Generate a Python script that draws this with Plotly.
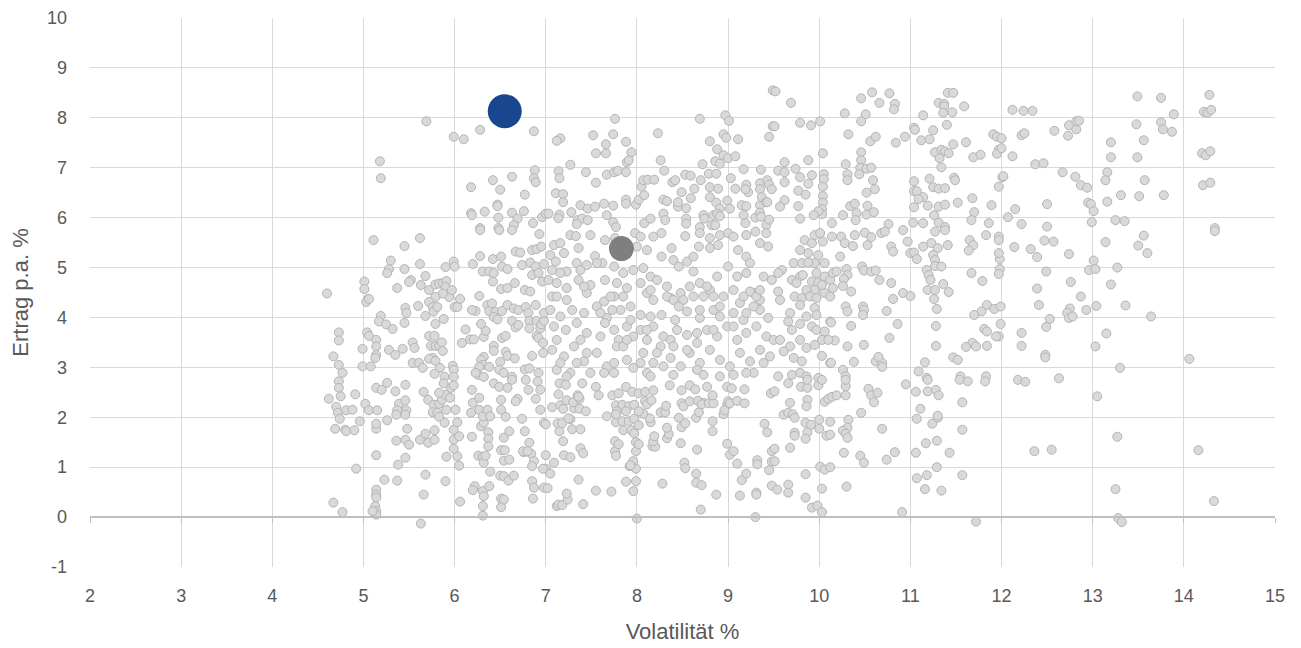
import plotly.graph_objects as go

# Portfolio cloud (volatility %, return p.a. %), by region
pts_top_left = [(5.69,7.93),(5.99,7.62),(6.10,7.57),(6.28,7.76),(6.87,7.73),(5.18,7.13),(5.19,6.79),(6.88,6.95),(6.87,6.79),(6.89,6.71),(6.18,6.61),(6.42,6.75),(6.63,6.82),(6.50,6.56),(6.77,6.46),(6.47,6.26),(6.47,6.23),(6.18,6.09),(6.19,6.05),(6.33,6.12),(6.48,6.00),(6.63,6.10),(6.76,6.13),(6.69,5.98),(6.86,5.89),(6.96,6.01),(7.00,6.08),(6.28,5.79),(6.48,5.79),(6.65,5.85)]
pts_top_mid = [(9.49,8.55),(7.76,7.98),(8.69,7.98),(8.97,8.05),(9.01,7.94),(9.49,7.83),(7.16,7.59),(7.12,7.54),(7.52,7.65),(7.74,7.67),(8.23,7.69),(7.66,7.47),(7.88,7.52),(7.55,7.29),(7.66,7.29),(7.94,7.31),(7.89,7.11),(7.91,7.15),(8.95,7.67),(8.98,7.60),(9.11,7.57),(8.80,7.53),(9.45,7.62),(8.88,7.37),(8.95,7.25),(9.00,7.19),(9.08,7.23),(8.86,7.13),(8.91,7.08),(8.26,7.15),(7.27,7.06),(7.14,6.93),(7.15,6.79),(7.44,6.91),(7.55,6.70),(7.67,6.86),(7.75,6.91),(7.79,6.94),(7.88,6.91),(8.30,6.94),(8.72,7.07),(8.79,6.88),(8.87,6.88),(9.03,6.79),(9.17,6.97),(9.36,6.96),(8.05,6.62),(8.07,6.75),(8.12,6.76),(8.19,6.76),(8.39,6.71),(8.42,6.75),(8.53,6.86),(8.59,6.84),(8.63,6.58),(8.70,6.75),(8.80,6.61),(8.89,6.58),(9.08,6.58),(9.20,6.66),(9.22,6.51),(9.19,6.57),(9.35,6.69),(9.35,6.57),(9.43,6.75),(9.45,6.66),(9.48,6.57),(7.11,6.49),(7.19,6.47),(7.19,6.31),(7.38,6.25),(7.46,6.18),(7.54,6.22),(7.64,6.28),(7.74,6.24),(7.88,6.36),(7.88,6.28),(7.99,6.26),(8.02,6.36),(8.08,6.45),(8.29,6.36),(8.33,6.33),(8.45,6.22),(8.49,6.51),(8.45,6.31),(8.54,6.19),(8.59,6.39),(8.80,6.41),(8.87,6.30),(8.91,6.18),(8.99,6.34),(9.02,6.18),(9.15,6.25),(9.20,6.23),(9.35,6.25),(9.37,6.41),(9.42,6.31),(9.43,6.31),(7.03,6.08),(7.15,6.06),(7.28,6.11),(7.14,5.99),(7.35,5.95),(7.40,5.98),(7.46,5.95),(7.34,5.87),(7.67,6.05),(7.74,5.91),(7.77,5.81),(8.08,5.89),(8.15,5.98),(8.29,6.08),(8.31,5.95),(8.54,5.98),(8.54,5.88),(8.73,6.05),(8.74,5.98),(8.69,5.81),(8.82,5.85),(8.84,6.05),(8.88,6.08),(8.91,6.03),(8.86,5.85),(9.17,6.05),(9.19,5.89),(9.30,6.00),(9.35,6.10),(9.36,6.02),(9.42,5.85),(9.45,5.96)]
pts_top_right = [(9.52,8.53),(9.69,8.30),(10.46,8.39),(10.58,8.51),(10.66,8.30),(10.77,8.49),(10.83,8.28),(10.82,8.17),(10.28,8.09),(10.51,8.07),(10.46,7.93),(11.41,8.50),(11.47,8.50),(11.31,8.30),(11.37,8.28),(11.37,8.23),(11.36,8.10),(11.46,8.11),(11.59,8.23),(11.14,8.05),(9.51,7.83),(9.79,7.90),(9.91,7.85),(10.01,7.93),(10.32,7.67),(10.56,7.53),(10.62,7.62),(10.84,7.50),(10.94,7.62),(11.04,7.80),(11.05,7.76),(11.12,7.55),(11.21,7.57),(11.25,7.75),(11.40,7.86),(11.27,7.31),(11.34,7.36),(11.38,7.33),(11.42,7.29),(11.47,7.47),(11.32,7.19),(11.34,7.01),(11.61,7.51),(11.69,7.21),(11.77,7.26),(11.91,7.67),(11.95,7.62),(11.97,7.36),(11.95,7.28),(10.04,7.29),(9.88,7.15),(9.62,7.11),(10.46,7.31),(10.46,7.15),(10.29,7.07),(10.45,7.00),(10.52,6.98),(10.57,7.00),(9.55,6.94),(9.62,6.91),(9.62,6.71),(9.74,6.98),(9.79,6.81),(9.88,6.68),(9.92,6.85),(10.05,6.87),(10.05,6.77),(10.04,6.62),(10.04,6.43),(10.04,6.30),(10.03,6.17),(10.03,6.07),(9.99,6.13),(10.31,6.87),(10.31,6.75),(10.44,6.87),(10.59,6.75),(10.61,6.57),(10.52,6.50),(9.77,6.54),(9.85,6.46),(9.77,6.23),(9.62,6.35),(9.57,6.22),(9.79,5.98),(9.94,6.05),(10.14,5.89),(10.26,6.05),(10.34,6.23),(10.39,6.28),(10.41,6.09),(10.52,6.06),(10.60,6.11),(10.53,6.24),(10.40,5.95),(11.04,6.73),(11.04,6.53),(11.07,6.53),(11.21,6.78),(11.25,6.61),(11.31,6.58),(11.38,6.59),(11.48,6.80),(11.49,6.75),(11.14,6.41),(11.09,6.37),(11.04,6.21),(11.19,6.24),(11.31,6.22),(11.38,6.26),(11.52,6.30),(11.68,6.39),(11.70,6.11),(11.67,5.95),(11.89,6.25),(11.97,6.62),(12.01,6.81),(10.76,5.87),(11.03,5.90),(11.14,5.89),(11.26,6.05),(11.31,5.90),(11.38,5.81),(11.86,5.89)]
pts_top_far = [(12.12,8.16),(12.24,8.14),(12.34,8.14),(13.49,8.43),(13.75,8.40),(13.89,8.07),(14.28,8.46),(14.22,8.12),(14.26,8.10),(14.30,8.16),(12.00,7.59),(12.00,7.39),(12.22,7.65),(12.25,7.69),(12.58,7.74),(12.74,7.85),(12.73,7.64),(12.82,7.77),(12.82,7.93),(12.85,7.94),(12.12,7.23),(12.37,7.07),(12.46,7.09),(13.48,7.87),(13.75,7.91),(13.77,7.77),(13.87,7.72),(13.20,7.51),(13.20,7.21),(13.56,7.55),(13.49,7.21),(14.20,7.29),(14.24,7.25),(14.29,7.33),(12.02,6.83),(12.67,6.91),(12.81,6.82),(12.87,6.65),(12.94,6.60),(13.16,6.91),(13.14,6.75),(13.57,6.75),(14.21,6.65),(14.29,6.70),(12.15,6.17),(12.07,6.01),(12.22,5.87),(12.50,6.27),(12.50,5.82),(12.95,6.30),(12.98,6.27),(13.01,6.13),(12.99,5.91),(13.16,6.32),(13.31,6.45),(13.51,6.43),(13.78,6.45),(13.25,5.95),(13.35,5.93),(14.34,5.79)]
pts_mid_left = [(4.60,4.48),(5.11,5.55),(5.45,5.43),(5.62,5.59),(5.30,5.14),(5.28,4.97),(5.26,4.89),(5.45,4.97),(5.62,5.07),(5.01,4.72),(5.01,4.57),(5.05,4.37),(5.03,4.31),(5.06,4.37),(5.37,4.59),(5.52,4.75),(5.50,4.71),(5.63,4.65),(5.68,4.83),(5.72,4.55),(5.79,4.66),(5.83,4.68),(5.87,4.69),(5.91,4.73),(5.90,4.61),(5.94,4.41),(5.87,4.48),(5.97,4.55),(5.79,4.41),(5.72,4.31),(5.76,4.21),(5.68,4.03),(5.77,4.12),(5.81,4.21),(5.88,3.97),(5.60,4.23),(5.46,4.19),(5.47,4.09),(5.45,3.89),(5.19,4.03),(5.17,3.92),(5.25,3.86),(5.32,3.77),(6.00,4.21),(6.03,4.21),(6.06,4.37),(5.90,5.01),(5.99,5.12),(6.00,5.02),(4.73,3.70),(4.73,3.54),(4.67,3.22),(4.73,3.05),(4.77,2.89),(5.04,3.70),(5.06,3.63),(5.14,3.55),(5.14,3.42),(5.14,3.25),(5.13,3.19),(4.99,3.37),(4.99,3.02),(5.08,3.02),(5.28,3.35),(5.35,3.25),(5.43,3.37),(5.54,3.50),(5.56,3.39),(5.54,3.09),(5.61,3.09),(5.65,2.99),(5.72,3.63),(5.78,3.63),(5.79,3.87),(5.74,3.43),(5.79,3.43),(5.83,3.43),(5.86,3.50),(5.87,3.33),(5.76,3.19),(5.72,3.17),(5.79,3.13),(5.84,2.99),(5.78,2.87),(5.89,2.81),(5.98,3.03),(5.99,2.95),(5.99,2.81),(6.12,3.76),(6.08,3.49),(6.17,3.56),(6.21,3.56),(6.32,3.61),(6.34,3.73),(6.29,3.87),(6.23,4.13),(6.19,4.15),(6.27,4.43),(6.36,4.25),(6.38,4.13),(6.41,4.28),(6.45,4.11),(6.43,4.01),(6.47,3.96),(6.52,4.13),(6.58,4.25),(6.63,3.93),(6.67,3.80),(6.70,3.85),(6.65,4.18),(6.70,4.15),(6.78,4.21),(6.89,4.25),(6.81,4.09),(6.82,3.93),(6.82,3.78),(6.90,3.93),(6.94,3.78),(6.95,3.86),(6.98,3.93),(6.98,4.09),(6.52,3.59),(6.43,3.43),(6.43,3.33),(6.56,3.63),(6.32,3.21),(6.29,3.15),(6.31,3.05),(6.38,3.01),(6.50,3.11),(6.56,3.31),(6.58,3.23),(6.66,3.18),(6.85,3.23),(6.90,3.63),(6.92,3.59),(6.97,3.49),(6.97,3.29),(6.27,3.01),(6.26,2.85),(6.32,2.81),(6.49,2.95),(6.54,2.89),(6.63,2.81),(6.77,2.96),(6.82,2.98),(6.92,2.89),(6.23,2.89),(6.28,5.75),(6.49,5.75),(6.63,5.75),(6.93,5.67),(6.28,5.23),(6.42,5.17),(6.51,5.22),(6.20,5.07),(6.31,4.92),(6.38,4.92),(6.43,4.89),(6.52,5.02),(6.58,4.97),(6.42,4.72),(6.51,4.57),(6.58,4.59),(6.66,4.69),(6.77,4.55),(6.83,4.52),(6.67,5.32),(6.72,5.30),(6.85,5.35),(6.90,5.37),(6.95,5.42),(6.74,5.05),(6.83,5.10),(6.89,5.02),(6.85,4.85),(6.92,4.89),(6.96,4.72),(6.98,5.07)]
pts_mid_centre = [(7.27,5.65),(7.33,5.63),(7.49,5.65),(7.65,5.55),(7.76,5.59),(7.98,5.69),(8.04,5.62),(8.18,5.62),(8.27,5.69),(8.53,5.63),(8.69,5.69),(8.80,5.59),(8.91,5.65),(9.00,5.69),(9.06,5.62),(9.20,5.65),(9.30,5.72),(9.42,5.69),(7.09,5.45),(7.16,5.49),(7.20,5.29),(7.36,5.39),(7.54,5.23),(8.00,5.42),(8.11,5.35),(8.27,5.22),(8.38,5.39),(8.40,5.15),(8.55,5.12),(8.62,5.22),(8.68,5.42),(8.80,5.39),(8.89,5.45),(9.11,5.35),(9.20,5.22),(9.35,5.49),(9.44,5.42),(7.05,5.25),(7.11,5.12),(7.07,4.95),(7.23,4.92),(7.34,5.09),(7.45,5.05),(7.62,5.09),(7.75,5.02),(7.85,4.89),(7.96,4.95),(8.07,4.99),(8.15,4.82),(7.12,4.69),(7.23,4.59),(7.36,4.75),(7.49,4.65),(7.65,4.75),(7.78,4.69),(7.89,4.59),(8.04,4.69),(8.11,4.49),(8.18,4.35),(8.33,4.62),(8.37,4.39),(8.48,4.49),(8.51,4.35),(8.46,5.02),(8.62,4.92),(8.69,4.69),(8.80,4.55),(8.73,4.42),(8.88,4.82),(8.95,4.42),(9.00,5.02),(9.10,4.82),(9.13,4.29),(9.24,5.09),(9.28,4.49),(9.35,4.35),(9.20,4.89),(9.39,4.82),(9.48,4.75),(9.24,4.52),(7.64,4.32),(7.75,4.42),(7.23,4.35),(7.45,4.49),(7.07,4.42),(7.05,4.15),(7.16,4.02),(7.29,4.15),(7.42,4.09),(7.56,4.22),(7.67,3.99),(7.82,4.15),(7.93,4.22),(8.04,4.05),(8.15,4.02),(8.27,4.05),(8.42,3.95),(8.55,4.12),(8.69,3.99),(8.84,4.15),(8.91,4.02),(9.06,4.09),(9.17,3.95),(9.35,4.15),(9.44,3.99),(7.09,3.82),(7.22,3.75),(7.34,3.89),(7.45,3.69),(7.60,3.62),(7.75,3.75),(7.89,3.82),(8.04,3.75),(8.18,3.82),(8.29,3.62),(8.44,3.75),(8.55,3.65),(8.66,3.69),(8.77,3.75),(8.88,3.62),(8.99,3.82),(9.10,3.55),(9.20,3.69),(9.31,3.82),(9.42,3.62),(7.12,3.55),(7.38,3.55),(7.65,3.89),(7.80,3.55),(8.11,3.55),(8.37,3.55),(7.07,3.35),(7.20,3.22),(7.31,3.42),(7.42,3.12),(7.56,3.29),(7.67,3.02),(7.78,3.42),(7.89,3.15),(7.96,2.99),(8.07,3.29),(8.18,3.09),(8.26,3.42),(8.37,3.19),(8.48,3.02),(8.58,3.29),(8.69,3.09),(8.80,3.35),(8.91,3.15),(9.02,3.02),(9.13,3.29),(9.24,3.12),(9.35,3.35),(9.46,3.22),(7.12,2.95),(7.27,2.89),(7.49,2.89),(7.75,2.89),(8.11,2.89),(8.40,2.85),(8.73,2.85),(9.06,2.85),(9.28,2.89)]
pts_mid_centre_extra = [(7.03,4.75),(7.12,4.42),(7.16,4.89),(7.38,4.95),(7.42,4.62),(7.56,5.09),(7.60,4.09),(7.71,4.42),(7.73,4.15),(7.85,4.42),(7.93,3.95),(8.15,4.55),(8.22,4.75),(8.33,4.42),(8.40,4.35),(8.46,4.22),(8.58,4.62),(8.62,4.42),(8.69,4.15),(8.77,4.62),(8.84,4.42),(8.91,4.22),(9.06,4.55),(9.17,4.42),(9.28,4.22),(9.31,4.42),(9.35,4.55),(9.20,4.09),(9.06,3.82),(8.84,3.75),(8.66,3.49),(8.55,3.35),(8.40,3.42),(8.22,3.29),(8.11,3.75),(7.96,3.62),(7.85,3.42),(7.75,3.09),(7.64,2.89),(7.45,3.29),(7.34,3.09),(7.23,2.82),(7.16,3.09),(7.89,3.55),(8.04,3.09),(8.15,2.82),(8.29,3.02),(8.66,2.95),(8.91,2.82),(9.20,2.89),(9.39,3.09),(9.50,3.55)]
pts_mid_right = [(9.84,5.55),(9.92,5.49),(9.95,5.65),(10.01,5.69),(10.04,5.52),(10.14,5.62),(9.88,5.29),(9.99,5.25),(9.95,5.09),(9.79,5.35),(9.72,5.09),(9.81,5.09),(9.88,5.10),(10.06,5.09),(9.59,4.95),(9.55,4.89),(9.70,4.75),(9.79,4.82),(9.75,4.69),(9.82,4.85),(9.92,4.72),(9.97,4.89),(9.99,4.69),(10.06,4.82),(10.12,4.75),(10.15,4.89),(10.19,4.92),(10.06,4.49),(10.12,4.42),(10.15,4.59),(9.95,4.55),(10.03,4.65),(9.86,4.55),(9.73,4.42),(9.81,4.39),(9.90,4.42),(9.97,4.39),(9.55,4.52),(9.57,4.35),(9.68,4.09),(9.79,4.25),(9.86,4.02),(9.95,4.19),(9.97,4.05),(10.12,3.92),(9.66,3.92),(9.70,3.75),(9.79,3.87),(9.92,3.82),(9.97,3.75),(10.06,3.72),(10.03,3.55),(10.17,3.54),(10.10,3.55),(9.57,3.55),(9.68,3.42),(9.61,3.32),(9.79,3.55),(9.86,3.39),(9.95,3.45),(9.72,3.19),(9.81,3.12),(10.03,3.23),(10.12,3.09),(9.55,2.82),(9.70,2.85),(9.79,2.89),(9.86,2.82),(9.99,2.79),(10.24,5.62),(10.28,5.49),(10.37,5.43),(10.39,5.65),(10.50,5.70),(10.53,5.45),(10.57,5.61),(10.68,5.69),(10.72,5.72),(10.23,5.22),(10.30,4.97),(10.31,4.85),(10.27,4.77),(10.26,4.63),(10.35,4.52),(10.47,5.02),(10.49,4.94),(10.57,4.92),(10.62,4.94),(10.66,4.75),(10.79,5.42),(10.81,5.32),(10.79,4.69),(10.81,4.37),(10.92,4.49),(11.00,4.43),(10.97,5.52),(11.00,5.29),(11.04,5.30),(11.07,5.17),(11.14,5.42),(11.23,5.49),(11.30,5.39),(11.25,5.25),(11.27,5.15),(11.27,5.03),(11.34,5.02),(11.41,5.45),(10.92,5.75),(11.27,5.72),(11.38,5.75),(11.83,5.65),(11.65,5.55),(11.69,5.45),(11.64,5.34),(11.98,5.17),(11.18,4.95),(11.20,4.85),(11.22,4.75),(11.19,4.55),(11.27,4.55),(11.26,4.37),(11.36,4.67),(11.42,4.51),(11.29,4.17),(11.67,4.89),(11.79,4.73),(11.84,4.25),(11.78,4.12),(11.70,4.05),(11.92,4.17),(10.29,4.22),(10.31,4.12),(10.48,4.22),(10.49,4.15),(10.48,4.05),(10.74,4.13),(10.35,3.83),(10.13,3.90),(10.86,3.87),(10.77,3.59),(10.49,3.45),(10.31,3.42),(11.28,3.83),(11.28,3.43),(11.81,3.77),(11.84,3.72),(11.97,3.62),(11.68,3.49),(11.72,3.42),(11.84,3.43),(11.61,3.41),(10.13,3.09),(10.38,3.11),(10.26,2.95),(10.29,2.82),(10.62,3.12),(10.69,3.09),(10.69,3.01),(10.65,3.21),(11.16,3.10),(11.09,2.92),(11.18,2.79),(11.47,3.20),(11.52,3.15),(11.55,2.82),(11.83,2.82)]
pts_mid_far = [(11.97,5.62),(11.97,5.55),(11.97,5.29),(11.98,4.97),(11.97,4.87),(11.99,4.22),(11.99,3.87),(11.94,3.62),(12.14,5.41),(12.32,5.37),(12.39,5.21),(12.47,5.54),(12.57,5.52),(12.49,4.92),(12.74,5.27),(12.39,4.58),(12.41,4.25),(12.76,4.71),(12.87,4.42),(12.93,4.15),(12.75,4.18),(12.72,4.09),(12.74,3.99),(12.78,4.02),(12.53,3.97),(12.49,3.81),(12.22,3.69),(12.22,3.43),(12.48,3.25),(12.48,3.20),(12.18,2.75),(12.26,2.71),(12.63,2.78),(13.01,5.14),(12.96,4.95),(13.03,4.97),(13.27,5.00),(13.14,5.51),(13.50,5.44),(13.56,5.64),(13.60,5.29),(13.20,4.66),(13.04,4.23),(13.36,4.24),(13.64,4.02),(13.15,3.68),(13.03,3.42),(13.30,2.99),(14.06,3.17),(14.34,5.73)]
pts_low_left = [(5.63,-0.13),(4.67,0.29),(4.77,0.10),(5.14,0.55),(5.14,0.45),(5.14,0.39),(5.13,0.22),(5.14,0.12),(5.14,0.05),(5.10,0.12),(5.23,0.75),(5.37,0.73),(5.68,0.85),(5.90,0.72),(5.66,0.45),(6.06,0.31),(6.22,0.62),(6.20,0.54),(6.31,0.52),(6.32,0.42),(6.38,0.62),(6.31,0.22),(6.31,0.03),(6.51,0.37),(6.51,0.20),(6.54,0.35),(6.85,0.72),(6.87,0.59),(6.86,0.37),(6.98,0.59),(7.00,0.97),(4.92,0.97),(5.14,1.24),(5.38,1.05),(5.46,1.19),(5.91,1.21),(6.03,1.22),(6.05,1.03),(6.26,1.23),(6.31,1.21),(6.32,1.09),(6.39,0.91),(6.50,0.83),(6.54,0.82),(6.59,0.73),(6.65,0.83),(6.54,1.13),(6.60,1.15),(6.76,1.30),(6.84,1.27),(6.87,1.12),(6.85,1.02),(6.97,0.97),(4.69,1.77),(4.80,1.75),(4.81,1.72),(4.90,1.74),(4.96,1.92),(5.14,1.77),(5.14,1.87),(5.48,1.77),(5.36,1.53),(5.46,1.55),(5.50,1.45),(5.62,1.55),(5.68,1.67),(5.71,1.49),(5.78,1.55),(5.78,1.74),(5.99,1.75),(5.99,1.55),(6.03,1.90),(6.05,1.62),(5.99,1.37),(6.19,1.61),(6.34,1.23),(6.37,1.70),(6.37,1.57),(6.37,1.42),(6.29,1.82),(6.32,1.89),(6.54,1.59),(6.51,1.34),(6.55,1.34),(6.60,1.72),(6.77,1.72),(6.82,1.49),(6.75,1.32),(6.80,1.32),(4.73,2.72),(4.73,2.59),(4.75,2.42),(4.62,2.37),(4.70,2.21),(4.72,2.09),(4.74,1.97),(4.81,2.14),(4.88,2.15),(4.91,2.46),(5.02,2.27),(5.06,2.14),(5.15,2.14),(5.14,2.59),(5.20,2.55),(5.26,2.69),(5.35,2.52),(5.46,2.65),(5.39,2.27),(5.46,2.34),(5.37,2.14),(5.47,2.14),(5.36,2.05),(5.46,2.05),(5.26,1.94),(5.66,2.51),(5.71,2.35),(5.77,2.25),(5.83,2.27),(5.86,2.35),(5.90,2.45),(5.95,2.39),(5.96,2.59),(5.99,2.64),(5.88,2.68),(5.83,2.49),(5.76,2.10),(5.81,2.09),(5.83,2.01),(5.89,1.89),(5.91,2.15),(6.01,2.15),(6.19,2.55),(6.20,2.29),(6.18,2.09),(6.27,2.39),(6.27,2.15),(6.31,2.02),(6.36,2.15),(6.39,2.02),(6.43,2.68),(6.49,2.61),(6.58,2.59),(6.51,2.35),(6.56,2.01),(6.51,2.15),(6.69,2.37),(6.67,2.32),(6.74,1.97),(6.81,2.55),(6.89,2.37),(6.94,2.55),(6.94,2.15),(6.98,1.89),(6.91,2.72),(6.78,2.75),(6.63,2.75)]
pts_low_centre = [(8.00,-0.03),(9.30,0.00),(8.70,0.15),(7.12,0.22),(7.14,0.25),(7.18,0.24),(7.24,0.35),(7.23,0.47),(7.41,0.26),(7.36,0.75),(7.55,0.53),(7.72,0.51),(7.88,0.71),(7.96,0.52),(7.99,0.72),(8.28,0.67),(8.65,0.87),(8.65,0.69),(8.71,0.64),(8.87,0.45),(9.13,0.43),(9.15,0.74),(9.20,0.87),(9.31,0.49),(9.31,0.45),(9.45,0.94),(9.48,0.63),(9.48,1.11),(7.05,0.87),(7.02,0.58),(9.10,1.07),(9.32,1.14),(9.32,1.06),(8.99,1.47),(9.02,1.25),(9.06,1.32),(9.43,1.70),(9.40,1.87),(9.48,1.32),(7.92,1.02),(7.96,1.12),(7.99,0.97),(7.93,1.04),(8.52,1.09),(8.53,0.98),(8.66,1.35),(8.48,1.48),(8.83,1.72),(8.83,1.92),(7.00,1.24),(7.09,1.09),(7.20,1.24),(7.27,1.20),(7.38,1.38),(7.41,1.28),(7.19,1.52),(7.76,1.32),(7.77,1.23),(7.76,1.52),(7.80,1.46),(7.99,1.50),(7.99,1.32),(8.02,1.46),(8.17,1.42),(8.20,1.41),(8.18,1.52),(8.19,1.62),(8.33,1.58),(8.35,1.66),(8.33,1.79),(8.46,1.99),(8.49,1.80),(8.53,1.88),(8.65,1.99),(8.68,2.10),(8.73,2.29),(7.00,1.86),(7.13,1.88),(7.15,1.72),(7.18,1.88),(7.29,1.76),(7.38,1.76),(7.27,1.96),(7.25,1.98),(7.77,1.90),(7.84,1.92),(7.91,1.92),(7.97,1.97),(7.85,1.74),(7.94,1.74),(7.97,1.68),(8.02,1.84),(8.15,1.90),(8.14,1.98),(7.67,2.02),(8.07,2.07),(8.26,2.10),(8.31,2.10),(8.32,2.23),(7.07,2.20),(7.16,2.24),(7.19,2.17),(7.23,2.34),(7.31,2.18),(7.37,2.17),(7.44,2.12),(7.30,2.30),(7.35,2.44),(7.37,2.37),(7.77,2.24),(7.84,2.25),(7.91,2.22),(7.78,2.12),(7.77,2.06),(7.88,2.12),(7.97,2.25),(8.02,2.12),(8.09,2.32),(8.11,2.26),(8.16,2.34),(8.49,2.28),(8.51,2.22),(8.58,2.32),(8.67,2.33),(8.71,2.26),(8.79,2.28),(8.84,2.28),(8.99,2.25),(9.00,2.32),(9.02,2.28),(9.10,2.33),(9.18,2.28),(8.95,2.06),(8.96,2.14),(7.15,2.68),(7.22,2.65),(7.40,2.68),(7.55,2.61),(7.58,2.44),(7.73,2.44),(7.80,2.48),(7.88,2.61),(7.95,2.51),(8.02,2.48),(8.09,2.51),(8.18,2.54),(8.36,2.64),(8.49,2.54),(8.58,2.64),(8.64,2.56),(8.77,2.61),(8.83,2.44),(8.99,2.61),(9.04,2.58),(9.18,2.56),(9.47,2.48),(7.14,2.46),(7.36,2.41)]
pts_low_right = [(9.66,2.68),(9.80,2.61),(9.87,2.59),(9.99,2.64),(9.87,2.75),(10.03,2.75),(10.29,2.62),(10.29,2.75),(10.54,2.57),(10.57,2.44),(10.64,2.49),(10.60,2.30),(10.95,2.66),(9.51,2.52),(9.68,2.29),(9.61,2.05),(9.66,2.09),(9.71,2.06),(9.73,1.99),(9.87,2.35),(9.86,2.22),(10.06,2.31),(10.10,2.37),(10.14,2.41),(10.19,2.44),(10.29,2.44),(10.46,2.09),(9.85,1.89),(9.91,1.85),(9.87,1.70),(9.73,1.69),(9.73,1.63),(9.85,1.57),(10.00,1.95),(10.12,1.91),(10.00,1.77),(10.32,1.95),(10.31,1.79),(10.26,1.73),(10.29,1.67),(10.31,1.59),(10.08,1.63),(10.12,1.65),(10.69,1.77),(9.68,1.39),(9.51,1.37),(9.51,1.12),(10.27,1.29),(10.45,1.23),(10.49,1.09),(10.74,1.15),(10.83,1.30),(10.01,1.01),(10.06,0.95),(10.12,1.00),(9.85,0.86),(9.66,0.65),(9.66,0.49),(9.54,0.55),(10.03,0.57),(10.30,0.61),(9.85,0.39),(9.92,0.19),(9.98,0.23),(10.03,0.10),(10.91,0.10),(11.06,2.51),(11.19,2.52),(11.28,2.55),(11.31,2.44),(11.11,2.17),(11.07,1.97),(11.24,1.87),(11.30,1.99),(11.30,2.03),(11.57,2.30),(11.57,1.75),(11.17,1.48),(11.29,1.53),(11.43,1.29),(11.06,1.29),(11.29,1.00),(11.18,0.84),(11.07,0.78),(11.16,0.56),(11.34,0.53),(11.57,0.84),(11.72,-0.09),(11.19,2.75),(11.54,2.75),(11.63,2.72),(11.82,2.72)]
pts_low_far = [(13.05,2.42),(13.27,1.61),(12.36,1.32),(12.55,1.35),(14.16,1.34),(13.25,0.56),(14.33,0.32),(13.28,-0.02),(13.32,-0.10)]

# Highlighted portfolios
highlight_blue = (6.55, 8.13)
highlight_grey = (7.83, 5.38)

cloud = (pts_top_left + pts_top_mid + pts_top_right + pts_top_far + pts_mid_left + pts_mid_centre
         + pts_mid_centre_extra + pts_mid_right + pts_mid_far + pts_low_left + pts_low_centre
         + pts_low_right + pts_low_far)
vol = [p[0] for p in cloud]
ret = [p[1] for p in cloud]

x_ticks = list(range(2, 16))
y_ticks = list(range(-1, 11))
y_tick_text = [str(v) for v in y_ticks]  # plain hyphen for -1

FONT = "Liberation Sans, Arial, sans-serif"
TXT = "#595959"
GRID = "#d9d9d9"

fig = go.Figure()
fig.add_trace(go.Scatter(
    x=vol, y=ret, mode="markers", hoverinfo="skip",
    marker=dict(size=9, color="#d9d9d9", line=dict(color="#b4b4b4", width=1)),
    showlegend=False))
fig.add_trace(go.Scatter(
    x=[highlight_grey[0]], y=[highlight_grey[1]], mode="markers",
    marker=dict(size=25, color="#7f7f7f", line=dict(width=0)), showlegend=False))
fig.add_trace(go.Scatter(
    x=[highlight_blue[0]], y=[highlight_blue[1]], mode="markers", xaxis="x2",
    marker=dict(size=34, color="#1a468f", line=dict(width=0)), showlegend=False))

fig.update_layout(
    width=1301, height=648,
    margin=dict(l=82, r=34, t=10, b=89),
    paper_bgcolor="white", plot_bgcolor="white",
    font=dict(family=FONT, color=TXT, size=18),
    xaxis=dict(range=[2, 15], tickvals=x_ticks, showgrid=True, gridcolor=GRID, gridwidth=1,
               zeroline=False, showline=False, ticks="", tickfont=dict(size=18, color=TXT),
               ticklabelstandoff=16, automargin=False,
               title=dict(text="Volatilität %", font=dict(size=22, color=TXT), standoff=18)),
    xaxis2=dict(matches="x", overlaying="x", anchor="free", position=1/11, showgrid=False,
                zeroline=False, showline=True, linecolor="#bfbfbf", linewidth=1.5,
                ticks="outside", ticklen=5, tickcolor="#bfbfbf", tickwidth=1,
                tickvals=x_ticks, showticklabels=False, automargin=False),
    yaxis=dict(range=[-1, 10], tickvals=y_ticks, ticktext=y_tick_text, showgrid=True,
               gridcolor=GRID, gridwidth=1,
               zeroline=False, showline=False, ticks="", tickfont=dict(size=18, color=TXT),
               ticklabelstandoff=22, automargin=False,
               title=dict(text="Ertrag p.a. %", font=dict(size=22, color=TXT), standoff=20)),
)

fig.write_html("out.html")
